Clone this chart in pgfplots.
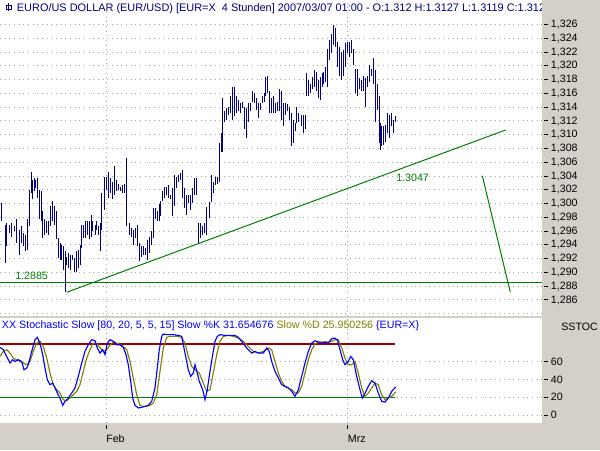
\documentclass[border=0pt]{standalone}
\usepackage{fontspec}
\setmainfont{Liberation Sans}
\usepackage{pgfplots}
\pgfplotsset{compat=1.18}
\definecolor{wingray}{RGB}{212,208,200}
\definecolor{barblue}{RGB}{0,0,128}
\definecolor{lgreen}{RGB}{0,128,0}
\definecolor{lred}{RGB}{150,0,0}
\definecolor{kblue}{RGB}{0,0,255}
\definecolor{dolive}{RGB}{128,128,0}
\definecolor{dotgray}{RGB}{165,165,165}
\newcommand\sm{\fontsize{8pt}{9.6pt}\selectfont}

% 1 screen pixel = 0.75pt, picture 600x450 px
\pgfplotsset{
  chartbase/.style={
    scale only axis, width=406.5pt, xmin=0, xmax=542,
    axis y line=right, axis y line shift=1.7pt,
    axis line style={draw=none},
    major tick length=3pt, tick align=outside,
    tick style={black, line width=0.75pt},
    ticklabel style={font=\sm},
    yticklabel style={anchor=west, inner sep=0pt, xshift=1.8pt},
    /pgf/number format/assume math mode=true,
    xmajorgrids, ymajorgrids,
    major grid style={dotgray, line width=0.75pt, dash pattern=on 0.75pt off 2.75pt},
    xtick={106,347.7},
  }
}

\begin{document}
\begin{tikzpicture}
\useasboundingbox (0,0) rectangle (450pt,337.5pt);
\fill[wingray] (0,0) rectangle (450pt,337.5pt);
\fill[white] (0,100.125pt) rectangle (406.5pt,337.5pt);
\fill[white] (0,20.25pt) rectangle (406.5pt,98.625pt);

% title, cut off by the scale panel as in the terminal
\draw[barblue, line width=0.75pt] (6.6pt,329pt) -- (6.6pt,335pt);
\draw[barblue, line width=0.75pt] (4.9pt,330.5pt) rectangle (8.5pt,333pt);
\node[anchor=base west, inner sep=0pt, text=barblue, font=\fontsize{8.2pt}{9.8pt}\selectfont] at (12.5pt,328.5pt)
  {EURO/US DOLLAR (EUR/USD) [EUR=X\ \ 4 Stunden] 2007/03/07 01:00 - O:1.312 H:1.3127 L:1.3119 C:1.3120};
\fill[wingray] (406.5pt,0) rectangle (450pt,337.5pt);

% price panel
\begin{axis}[chartbase, height=237.375pt, at={(0pt,100.125pt)}, anchor=south west,
  ymin=1.28360, ymax=1.32957,
  ytick={1.286,1.288,...,1.3261},
  scaled y ticks=false,
  yticklabel style={/pgf/number format/.cd, fixed, fixed zerofill, precision=3, use comma, 1000 sep={}},
  xticklabels={}, major x tick style={draw=none},
  extra y ticks={1.284}, extra y tick labels={},
  extra y tick style={grid=major, tick style={draw=none}}]

\addplot[draw=none, mark=none, forget plot,
  error bars/.cd, y dir=plus, y explicit, error mark=none,
  error bar style={draw=barblue, line width=0.75pt, solid}]
  table[x=x, y=lo, y error plus expr=\thisrow{hi}-\thisrow{lo}] {
x lo hi
1.7 1.2974 1.3001
5.0 1.2913 1.2969
6.7 1.2938 1.2972
9.3 1.2957 1.2969
11.7 1.2952 1.2972
14.0 1.2960 1.2967
16.7 1.2943 1.2977
19.0 1.2926 1.2962
21.0 1.2943 1.2967
23.3 1.2938 1.2957
25.0 1.2931 1.2955
27.3 1.2933 1.2977
29.3 1.2967 1.3020
31.0 1.3016 1.3046
32.3 1.3006 1.3034
34.0 1.3018 1.3037
35.7 1.3022 1.3034
37.7 1.3008 1.3037
39.3 1.2977 1.3020
41.0 1.2974 1.3018
42.7 1.2950 1.2989
44.3 1.2955 1.2977
46.7 1.2957 1.2974
48.3 1.2955 1.2974
50.7 1.2967 1.2996
52.3 1.2974 1.3004
54.3 1.2969 1.2996
56.0 1.2948 1.2989
58.3 1.2921 1.2950
60.0 1.2918 1.2943
61.7 1.2918 1.2940
63.3 1.2904 1.2938
65.0 1.2872 1.2931
66.7 1.2911 1.2923
68.3 1.2906 1.2928
70.7 1.2904 1.2926
72.7 1.2918 1.2926
74.0 1.2901 1.2921
76.0 1.2901 1.2931
78.3 1.2906 1.2933
80.0 1.2911 1.2940
81.7 1.2935 1.2969
83.3 1.2950 1.2969
85.0 1.2950 1.2974
87.3 1.2955 1.2974
89.3 1.2948 1.2974
91.0 1.2952 1.2984
92.7 1.2960 1.2974
95.0 1.2955 1.2969
96.7 1.2962 1.2974
98.3 1.2955 1.2967
100.0 1.2931 1.2972
101.7 1.2962 1.3015
104.3 1.2991 1.3039
106.3 1.3020 1.3039
108.3 1.3008 1.3046
110.3 1.3016 1.3037
112.3 1.3006 1.3032
114.3 1.3013 1.3054
116.3 1.3018 1.3034
118.3 1.3020 1.3029
120.3 1.3018 1.3024
122.3 1.3016 1.3027
124.3 1.3016 1.3029
126.3 1.2967 1.3066
129.3 1.2955 1.2972
131.3 1.2952 1.2964
133.3 1.2940 1.2962
135.3 1.2950 1.2964
137.3 1.2938 1.2969
139.3 1.2916 1.2943
141.3 1.2923 1.2938
143.3 1.2926 1.2938
145.3 1.2926 1.2935
147.3 1.2918 1.2947
149.3 1.2928 1.2952
151.3 1.2940 1.2960
153.3 1.2950 1.2994
155.3 1.2977 1.2994
157.3 1.2974 1.2989
159.3 1.2974 1.2999
160.7 1.2982 1.3004
162.7 1.3004 1.3018
164.7 1.3008 1.3024
166.7 1.3013 1.3024
168.7 1.3008 1.3027
170.7 1.3006 1.3013
172.7 1.2982 1.3022
174.7 1.2996 1.3041
176.7 1.3022 1.3039
178.7 1.3032 1.3041
180.7 1.3034 1.3044
182.7 1.3008 1.3049
184.7 1.2994 1.3022
186.7 1.2984 1.3013
188.7 1.3001 1.3013
190.7 1.2991 1.3013
192.7 1.3001 1.3022
194.7 1.3013 1.3037
196.7 1.3013 1.3037
198.7 1.2943 1.2972
200.7 1.2950 1.2972
202.7 1.2955 1.2967
204.7 1.2957 1.2972
206.7 1.2955 1.2995
209.0 1.2979 1.3002
211.0 1.3002 1.3041
213.0 1.3015 1.3032
215.0 1.3027 1.3039
217.0 1.3029 1.3039
219.0 1.3032 1.3088
221.0 1.3075 1.3102
222.3 1.3075 1.3153
224.0 1.3119 1.3134
226.0 1.3122 1.3139
228.0 1.3129 1.3141
230.0 1.3131 1.3156
232.0 1.3122 1.3170
234.0 1.3127 1.3170
236.0 1.3131 1.3156
238.0 1.3134 1.3151
240.0 1.3131 1.3146
242.0 1.3139 1.3148
244.0 1.3109 1.3141
246.0 1.3095 1.3139
248.0 1.3119 1.3146
250.0 1.3134 1.3146
252.0 1.3148 1.3163
254.0 1.3146 1.3161
256.0 1.3136 1.3153
258.0 1.3124 1.3146
260.0 1.3136 1.3146
262.0 1.3146 1.3156
264.0 1.3148 1.3161
265.3 1.3156 1.3184
267.3 1.3161 1.3186
269.3 1.3131 1.3163
271.3 1.3131 1.3153
273.3 1.3131 1.3156
275.3 1.3131 1.3146
277.3 1.3134 1.3148
279.3 1.3134 1.3166
281.3 1.3122 1.3163
283.3 1.3112 1.3146
285.3 1.3129 1.3146
287.3 1.3134 1.3144
289.3 1.3122 1.3141
291.3 1.3083 1.3132
293.3 1.3088 1.3122
295.3 1.3105 1.3117
296.7 1.3117 1.3141
298.7 1.3119 1.3132
301.0 1.3112 1.3129
303.0 1.3102 1.3129
305.0 1.3109 1.3129
306.3 1.3156 1.3189
308.3 1.3156 1.3179
310.3 1.3161 1.3173
312.3 1.3166 1.3184
314.3 1.3170 1.3194
316.3 1.3163 1.3191
318.3 1.3153 1.3179
320.3 1.3151 1.3184
322.3 1.3170 1.3189
323.7 1.3173 1.3191
325.7 1.3177 1.3199
327.7 1.3170 1.3225
329.7 1.3208 1.3238
331.7 1.3218 1.3247
333.7 1.3230 1.3259
335.7 1.3228 1.3255
337.7 1.3199 1.3235
339.7 1.3186 1.3228
341.7 1.3179 1.3220
343.7 1.3186 1.3223
345.7 1.3199 1.3233
347.7 1.3218 1.3235
349.7 1.3213 1.3235
351.7 1.3218 1.3238
353.7 1.3201 1.3225
355.0 1.3161 1.3196
357.0 1.3156 1.3196
359.0 1.3166 1.3182
361.0 1.3163 1.3179
363.0 1.3163 1.3186
365.0 1.3141 1.3182
367.0 1.3170 1.3186
369.0 1.3177 1.3201
371.0 1.3186 1.3196
373.0 1.3173 1.3211
375.0 1.3119 1.3194
377.0 1.3136 1.3173
379.0 1.3088 1.3156
380.3 1.3078 1.3117
381.7 1.3083 1.3112
383.7 1.3085 1.3112
385.7 1.3090 1.3114
387.7 1.3102 1.3131
389.7 1.3095 1.3129
391.7 1.3112 1.3132
393.7 1.3102 1.3122
395.7 1.3119 1.3127
};

\addplot[lgreen, line width=1.1pt] coordinates {(0,1.2885) (542,1.2885)};
\addplot[lgreen, line width=0.75pt] coordinates {(66.7,1.28712) (505.7,1.31069)};
\addplot[lgreen, line width=0.75pt] coordinates {(482.3,1.30405) (510.3,1.28711)};
\end{axis}

% stochastic panel
\begin{axis}[chartbase, height=78.375pt, at={(0pt,20.25pt)}, anchor=south west,
  ymin=-8.9, ymax=108.7, ytick={0,20,40,60},
  axis x line=bottom, axis x line shift=2.8pt,
  xticklabels={Feb,Mrz},
  xticklabel style={anchor=north west, inner sep=0pt, yshift=-4.35pt}]
\addplot[lred, line width=1.1pt] coordinates {(0,80) (395,80)};
\addplot[lgreen, line width=1.1pt] coordinates {(0,20) (395,20)};
% Slow %D
\addplot[dolive, line width=0.85pt] coordinates {
(0,66) (3.3,71.7) (6.7,73.6) (10,69.8) (13.3,64.2) (16.7,62.3) (20,60.4) (23.3,58.6)
(26.7,56.7) (30,60.4) (33.3,71.7) (36.7,81) (40,83) (43.3,77.3) (46.7,64.2) (50,47.3)
(53.3,34.2) (56.7,28.6) (60,24.8) (63.3,17.3) (66.7,16.2) (70,19.2) (73.3,23) (76.7,26.7)
(80,34.2) (83.3,49.2) (86.7,64.2) (90,73.6) (93.3,81) (96.7,81) (100,75.5) (103.3,71.7)
(106.7,73.6) (110,78.4) (113.3,82.2) (116.7,81) (120,79.2) (123.3,77.3) (126.7,73.6)
(130,60.4) (133.3,41.7) (136.7,23) (140,11) (143.3,9.8) (146.7,9.8) (150,11) (153.3,13.6)
(156.7,23) (160,49.2) (163.3,75.5) (166.7,87.5) (170,88.6) (173.3,88.6) (176.7,88.6)
(181.7,87.5) (185,81) (188.3,66) (191.7,54.8) (195,51) (199.3,47.3)
(203.3,36) (206.7,26.7) (210,28.6) (213.3,47.3) (216.7,68) (220,83) (223.3,88.6)
(228.3,89.7) (233.3,88.6) (238.3,86.7) (243.3,83) (248.3,77.3) (253.3,71.7) (258.3,69.8)
(263.3,71.7) (268.3,75.5) (271.7,73.6) (275,60.4) (278.3,47.3) (281.7,38) (285,32.3)
(288.3,30.5) (291.7,28.6) (295,24.8) (298.3,24.8) (301.7,32.3) (305,47.3) (308.3,62.3)
(311.7,73.6) (315,80) (318.3,82.2) (323.3,82.2) (328.3,82.2) (331.7,83) (335,84.8)
(338.3,84.8) (341.7,75.5) (345,64.2) (348.3,56.7) (351.7,56.7) (355,60.4) (358.3,47.3)
(361.7,30.5) (365,21.1) (368.3,24.8) (371.7,30.5) (375,36) (378.3,34.2) (381.7,23)
(385,17.3) (388.3,19.2) (391.7,21.1) (395.7,25.95)
};
% Slow %K
\addplot[kblue, line width=0.85pt] coordinates {
(0,76.2) (3.3,73.6) (6.7,66) (10,58.6) (12.7,62.3) (15,60.4) (18.3,62.3) (21.7,60.4)
(24,51) (26.7,52.9) (28.3,56.7) (31.7,71.7) (35,84.8) (37.3,87.5) (40,81) (42.7,68)
(45,53) (47.3,39.8) (50,34.2) (52.7,36) (55,30.5) (57.3,24.8) (60,19.2) (62.7,11)
(65,15.5) (68.3,19.2) (71.7,24.8) (75,30.5) (78.3,43.6) (81.7,58.6) (85,71.7) (88.3,79.2)
(91.7,84.8) (95,83.7) (97.3,75.5) (100,69.8) (102.7,73.6) (105,68) (107.3,81) (110,84.8)
(113.3,83) (116.7,79.2) (120,79.2) (123.3,76.2) (126,68) (128.3,56.7) (130.7,37.9)
(132.7,19.2) (135,11) (138.3,8) (141.7,8.7) (145,9.8) (148.3,11) (151.7,15.5) (155,30.5)
(157.3,53) (159.3,73.6) (161.7,88.6) (163.3,91.2) (166.7,90.5) (170,90.5) (173.3,90.5)
(178.3,89.7) (181.7,88.6) (184,75.5) (186.7,60.4) (188.3,51) (190.7,43.6) (193.3,47.3)
(195,56.7) (197.3,47.3) (199.3,37.9) (202.7,28.6) (205,17.3) (207.3,28.6) (210,49.2)
(212.7,68) (215,83) (217.3,88.6) (220,90.5) (225,89.7) (230,89.7) (235,89.7) (238.3,87.5)
(241.7,83) (246.7,75.5) (251.7,69.8) (255,71.7) (258.3,69.8) (263.3,69.8) (266.7,75.5)
(269.3,71.7) (271.7,60.4) (275,49.2) (278.3,41.7) (281.7,34.2) (285,32.3) (288.3,30.5)
(291.7,26.7) (295,21.1) (298.3,28.6) (301.7,43.6) (305,58.6) (308.3,71.7) (311.7,81)
(315,83.7) (318.3,82.2) (321.7,81) (325,82.2) (328.3,81) (331.7,86) (334.3,86.7)
(337.3,84.8) (340,73.6) (342.7,62.3) (345,56.7) (348.3,60.4) (350.7,66) (353.3,62.3)
(356.7,43.6) (360,28.6) (362.3,19.2) (365,24.8) (368.3,32.3) (371.7,38.7) (375,36)
(378.3,24.8) (381.7,15.5) (385,14.7) (388.3,19.2) (391.7,26.7) (395.7,31.65)
};
\end{axis}

\node[anchor=base west, inner sep=0pt, text=lgreen, font=\sm] at (11.25pt,127.5pt) {1.2885};
\node[anchor=base west, inner sep=0pt, text=lgreen, font=\sm] at (297pt,201.2pt) {1.3047};
\node[anchor=base west, inner sep=0pt, font=\sm] at (1.3pt,91pt)
  {\textcolor{kblue}{XX Stochastic Slow [80, 20, 5, 5, 15] Slow \%K 31.654676} \textcolor{dolive}{Slow \%D 25.950256} \textcolor{kblue}{\{EUR=X\}}};
\node[anchor=base west, inner sep=0pt, font=\sm] at (420.75pt,89.5pt) {SSTOC};
\end{tikzpicture}
\end{document}
